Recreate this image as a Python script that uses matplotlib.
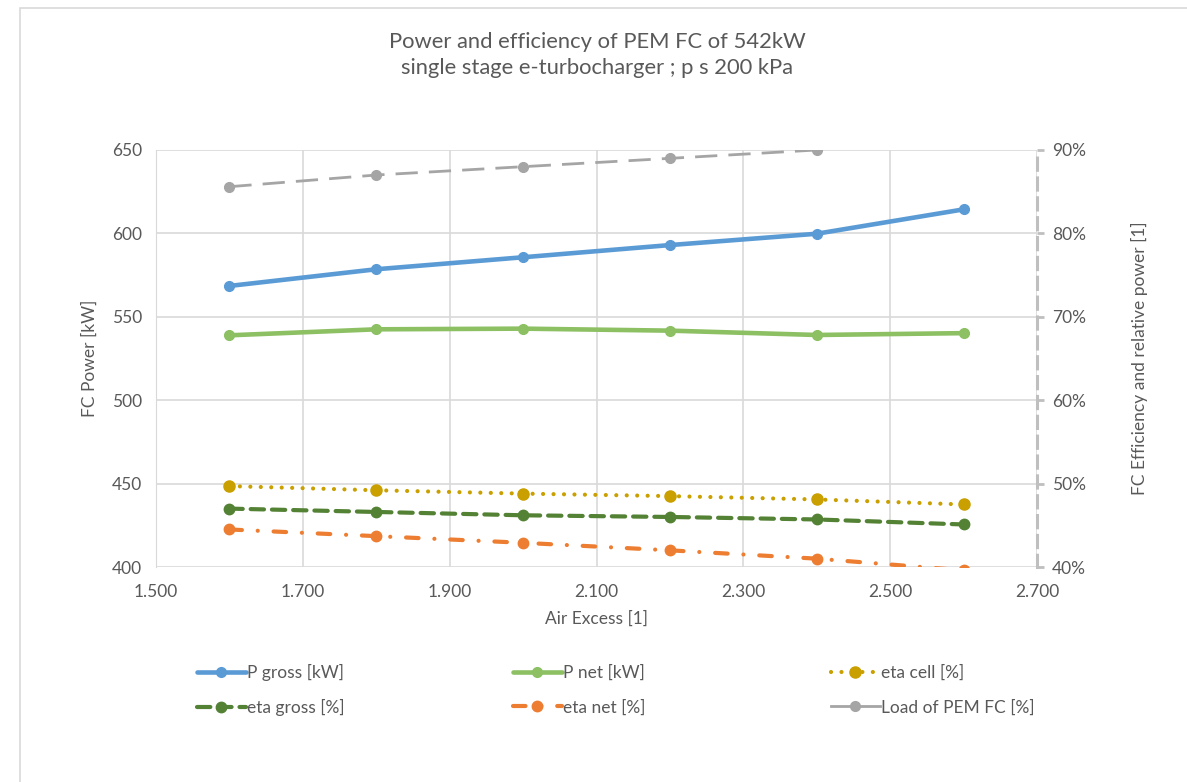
import matplotlib
matplotlib.use("Agg")
import numpy as np
from matplotlib import pyplot as plt
from matplotlib.lines import Line2D
from matplotlib.patches import Rectangle
from matplotlib.ticker import FuncFormatter, MultipleLocator

# air excess ratio
air_excess = [1.6, 1.8, 2.0, 2.2, 2.4, 2.6]

# power [kW]
p_gross = [568.5, 578.5, 585.7, 593.0, 599.8, 614.4]
p_net = [538.9, 542.5, 542.9, 541.7, 539.1, 540.2]

# efficiencies [%]
eta_cell = [49.7, 49.2, 48.8, 48.5, 48.1, 47.5]
eta_gross = [47.0, 46.6, 46.2, 46.0, 45.7, 45.1]
eta_net = [44.5, 43.7, 42.9, 42.0, 41.0, 39.6]

# relative load, no value at 2.6
load_x = [1.6, 1.8, 2.0, 2.2, 2.4]
load_pct = [85.6, 87.0, 88.0, 89.0, 90.0]

x_ticks = [1.5, 1.7, 1.9, 2.1, 2.3, 2.5, 2.7]

txt = "#595959"
grid = "#D9D9D9"
plt.rcParams['font.family'] = ['Lato', 'DejaVu Sans']

fig = plt.figure(figsize=(11.87, 7.82), dpi=100)
fig.patches.append(Rectangle((20 / 1187, -0.01), 1.2, 1 - 8 / 782 + 0.01,
                             transform=fig.transFigure, fill=False,
                             edgecolor=grid, lw=1.2))

ax = fig.add_axes([156 / 1187, 1 - 567 / 782, 881 / 1187, 417 / 782])
ax2 = ax.twinx()

# left axis: power
l_gross, = ax.plot(air_excess, p_gross, color="#5B9BD5", lw=3.3,
                   marker="o", ms=7, solid_capstyle="round", zorder=5)
l_net, = ax.plot(air_excess, p_net, color="#8CC063", lw=3.3,
                 marker="o", ms=7, solid_capstyle="round", zorder=5)

# right axis: efficiencies and load
l_cell, = ax2.plot(air_excess, eta_cell, color="#C9A000", lw=3.0,
                   ls=(0, (0.01, 2.5)), dash_capstyle="round",
                   marker="o", ms=8)
l_egross, = ax2.plot(air_excess, eta_gross, color="#548235", lw=3.0,
                     ls=(0, (3.2, 1.9)), dash_capstyle="round",
                     marker="o", ms=7.5)
l_enet, = ax2.plot(air_excess, eta_net, color="#ED7D31", lw=3.0,
                   ls=(0, (3.0, 3.8, 0.01, 3.8)), dash_capstyle="round",
                   marker="o", ms=7.5)
l_load, = ax2.plot(load_x, load_pct, color="#A5A5A5", lw=2.0,
                   ls=(0, (8, 4)), marker="o", ms=7)

ax.set_xlim(1.5, 2.7)
ax.set_ylim(400, 650)
ax2.set_ylim(40, 90)
ax.set_xticks(x_ticks)
ax.yaxis.set_major_locator(MultipleLocator(50))
ax2.yaxis.set_major_locator(MultipleLocator(10))
ax.xaxis.set_major_formatter(FuncFormatter(lambda v, p: f"{v:.3f}"))
ax2.yaxis.set_major_formatter(FuncFormatter(lambda v, p: f"{v:.0f}%"))

ax.grid(True, color=grid, lw=1.2)
ax.set_axisbelow(True)
for a in (ax, ax2):
    for s in ("top", "bottom", "left", "right"):
        a.spines[s].set_visible(False)
ax.spines["left"].set_visible(True)
ax.spines["left"].set_color(grid)
ax2.spines["right"].set_visible(True)
ax2.spines["right"].set_color("#BFBFBF")
ax2.spines["right"].set_linewidth(2.2)
ax2.spines["right"].set_linestyle((0, (4, 2.5)))

ax.tick_params(axis="both", length=0, labelsize=12.5, colors=txt, pad=12)
ax.tick_params(axis="y", pad=10)
ax2.tick_params(axis="y", length=5, width=2, color="#BFBFBF",
                labelsize=12.5, labelcolor=txt, pad=6)

ax.set_xlabel("Air Excess [1]", fontsize=12.5, color=txt, labelpad=8)
ax.set_ylabel("FC Power [kW]", fontsize=12.5, color=txt, labelpad=10)
ax2.set_ylabel("FC Efficiency and relative power [1]", fontsize=12.5,
               color=txt, labelpad=32)

fig.text(597 / 1187, 1 - 55 / 782,
         "Power and efficiency of PEM FC of 542kW\n"
         "single stage e-turbocharger ; p s 200 kPa",
         ha="center", va="center", fontsize=15.8, color=txt, linespacing=1.4)

# legend sample for the load series is drawn solid
load_handle = Line2D([], [], color="#A5A5A5", lw=2.0, marker="o", ms=7)
columns = [
    (197, [l_gross, l_egross], ["P gross [kW]", "eta gross [%]"]),
    (513, [l_net, l_enet], ["P net [kW]", "eta net [%]"]),
    (831, [l_cell, load_handle], ["eta cell [%]", "Load of PEM FC [%]"]),
]
for x0, hs, ls in columns:
    leg = fig.legend(hs, ls, loc="center left",
                     bbox_to_anchor=(x0 / 1187, 1 - 690 / 782),
                     frameon=False, fontsize=12.5, labelcolor=txt,
                     handlelength=2.8, handletextpad=0.1,
                     labelspacing=1.05, borderpad=0, borderaxespad=0)

fig.savefig("out.png", dpi=100)
